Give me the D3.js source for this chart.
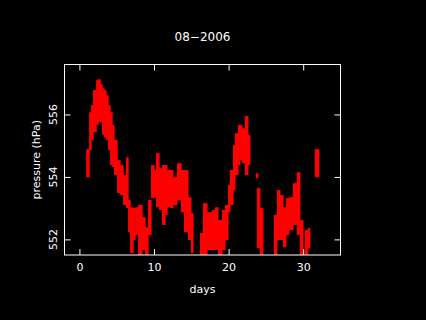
<!DOCTYPE html>
<html>
<head>
<meta charset="utf-8">
<script src="https://cdn.jsdelivr.net/npm/d3@7"></script>
<style>
  body { margin: 0; background: #000; }
  svg { display: block; }
</style>
</head>
<body>
<div id="chart"></div>
<script>
// readings grouped in short time bins: start day, end day, highest and lowest pressure
var dayFrom = [0.90, 1.30, 1.57, 1.83, 2.24, 2.50, 2.77, 3.04, 3.31, 3.57, 3.84, 4.11, 4.38, 4.64, 5.05, 5.45, 5.85, 6.25,
    6.52, 6.79, 7.19, 7.46, 7.86, 8.39, 8.80, 9.20, 9.60, 10.00, 10.27, 10.67, 11.07, 11.47, 11.74, 12.14, 12.54, 13.08,
    13.61, 14.02, 14.55, 14.95, 16.16, 16.56, 17.10, 17.77, 18.17, 18.57, 19.11, 19.51, 19.91, 20.17, 20.58, 20.84,
    21.25, 21.51, 21.78, 22.18, 22.58, 23.65, 23.79, 24.19, 26.06, 26.47, 26.87, 27.27, 27.67, 28.07, 28.61, 29.14,
    29.54, 30.21, 30.61, 31.55];
var dayTo = [1.30, 1.57, 1.83, 2.24, 2.50, 2.77, 3.04, 3.31, 3.57, 3.84, 4.11, 4.38, 4.64, 5.05, 5.45, 5.85, 6.25, 6.52,
    6.79, 7.19, 7.46, 7.86, 8.39, 8.80, 9.20, 9.60, 10.00, 10.27, 10.67, 11.07, 11.47, 11.74, 12.14, 12.54, 13.08, 13.61,
    14.02, 14.55, 14.95, 15.22, 16.56, 17.10, 17.77, 18.17, 18.57, 19.11, 19.51, 19.91, 20.17, 20.58, 20.84, 21.25,
    21.51, 21.78, 22.18, 22.58, 22.85, 23.92, 24.19, 24.59, 26.47, 26.87, 27.27, 27.67, 28.07, 28.61, 29.14, 29.54,
    29.94, 30.61, 30.88, 32.08];
var pHigh = [554.89, 556.07, 556.30, 556.78, 557.10, 557.13, 556.97, 556.84, 556.78, 556.62, 556.30, 556.07, 555.66,
    555.18, 554.54, 554.38, 554.06, 554.63, 553.26, 553.03, 553.00, 553.03, 553.10, 552.71, 552.39, 553.26, 554.38,
    554.22, 554.76, 554.28, 554.38, 554.38, 554.22, 554.22, 553.99, 554.44, 554.22, 554.22, 553.35, 552.84, 552.20,
    553.16, 552.87, 552.94, 553.03, 552.62, 552.94, 553.10, 553.74, 554.22, 555.02, 555.40, 555.66, 555.66, 555.56,
    555.95, 555.34, 554.12, 553.64, 553.00, 552.78, 553.58, 553.42, 553.03, 553.32, 553.35, 553.80, 554.15, 552.62,
    552.30, 552.36, 554.89];
var pLow = [553.99, 554.86, 555.18, 555.43, 555.66, 555.75, 555.75, 555.34, 555.27, 555.18, 554.86, 554.38, 554.31,
    554.06, 553.48, 553.42, 553.10, 553.00, 552.23, 551.56, 551.98, 552.14, 551.50, 551.66, 551.50, 552.14, 553.32,
    553.35, 553.03, 552.94, 552.46, 552.78, 553.03, 553.00, 553.10, 553.26, 552.87, 552.23, 551.98, 551.56, 551.43,
    551.50, 551.66, 551.66, 551.66, 551.43, 551.66, 551.98, 552.87, 553.10, 553.58, 554.06, 554.38, 554.54, 554.44,
    554.06, 554.38, 553.96, 551.72, 551.43, 551.43, 551.98, 551.98, 551.75, 552.14, 552.30, 552.46, 552.14, 551.43,
    551.50, 551.72, 553.99];

var xTicks = [0, 10, 20, 30];
var yTicks = [552, 554, 556];
var title = '08\u22122006';

var width = 426;
var height = 320;
var margin = {
    top: 64.5,
    right: 85.5,
    bottom: 65,
    left: 64.5
};

var x = d3.scaleLinear()
    .domain([-2, 35])
    .range([margin.left, width - margin.right]);

var y = d3.scaleLinear()
    .domain([551.5, 557.6])
    .range([height - margin.bottom, margin.top]);

var svg = d3.select('#chart')
    .append('svg')
    .attr('width', width)
    .attr('height', height)
    .style('background', '#000')
    .style('font-family', 'DejaVu Sans');

svg.append('clipPath')
    .attr('id', 'plot')
    .append('rect')
    .attr('x', margin.left)
    .attr('y', margin.top)
    .attr('width', width - margin.left - margin.right)
    .attr('height', height - margin.top - margin.bottom);

var bins = dayFrom.map((d, i) => ({from: d, to: dayTo[i], hi: pHigh[i], lo: pLow[i]}));

svg.append('g')
    .attr('clip-path', 'url(#plot)')
    .selectAll('rect')
    .data(bins)
    .join('rect')
    .attr('x', d => x(d.from))
    .attr('width', d => x(d.to) - x(d.from) + 0.6)
    .attr('y', d => y(d.hi))
    .attr('height', d => y(d.lo) - y(d.hi))
    .attr('fill', '#ff0000');

// inward ticks on all four sides
var tickLen = 6;
var axisStyle = g => g
    .call(g => g.select('.domain').remove())
    .call(g => g.selectAll('line').attr('stroke', '#fff'))
    .call(g => g.selectAll('text').attr('fill', '#fff'));

svg.append('g')
    .attr('transform', `translate(0,${height - margin.bottom})`)
    .call(d3.axisBottom(x).tickValues(xTicks).tickSizeInner(-tickLen).tickSizeOuter(0).tickPadding(8))
    .attr('font-size', 11)
    .attr('font-family', 'DejaVu Sans')
    .call(axisStyle);

svg.append('g')
    .attr('transform', `translate(0,${margin.top})`)
    .call(d3.axisTop(x).tickValues(xTicks).tickSizeInner(-tickLen).tickSizeOuter(0).tickFormat(''))
    .call(axisStyle);

svg.append('g')
    .attr('transform', `translate(${margin.left},0)`)
    .call(d3.axisLeft(y).tickValues(yTicks).tickSizeInner(-tickLen).tickSizeOuter(0).tickFormat(''))
    .call(axisStyle);

svg.append('g')
    .attr('transform', `translate(${width - margin.right},0)`)
    .call(d3.axisRight(y).tickValues(yTicks).tickSizeInner(-tickLen).tickSizeOuter(0).tickFormat(''))
    .call(axisStyle);

// rotated y tick labels
svg.append('g')
    .selectAll('text')
    .data(yTicks)
    .join('text')
    .attr('transform', d => `translate(57,${y(d)}) rotate(-90)`)
    .attr('text-anchor', 'middle')
    .attr('font-size', 11)
    .attr('fill', '#fff')
    .text(d => d);

svg.append('rect')
    .attr('x', margin.left)
    .attr('y', margin.top)
    .attr('width', width - margin.left - margin.right)
    .attr('height', height - margin.top - margin.bottom)
    .attr('fill', 'none')
    .attr('stroke', '#fff')
    .attr('stroke-width', 1);

svg.append('text')
    .attr('x', (margin.left + width - margin.right) / 2)
    .attr('y', 41)
    .attr('text-anchor', 'middle')
    .attr('font-size', 12)
    .attr('fill', '#fff')
    .text(title);

svg.append('text')
    .attr('x', (margin.left + width - margin.right) / 2)
    .attr('y', 293)
    .attr('text-anchor', 'middle')
    .attr('font-size', 11)
    .attr('fill', '#fff')
    .text('days');

svg.append('text')
    .attr('transform', `translate(40,${(margin.top + height - margin.bottom) / 2}) rotate(-90)`)
    .attr('text-anchor', 'middle')
    .attr('font-size', 11)
    .attr('fill', '#fff')
    .text('pressure (hPa)');
</script>
</body>
</html>
